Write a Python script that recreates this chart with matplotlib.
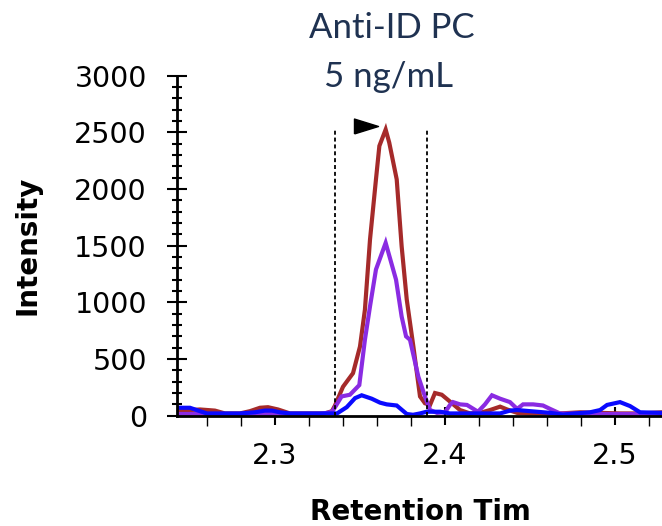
import matplotlib
matplotlib.use("Agg")
import matplotlib.pyplot as plt
from matplotlib.ticker import MultipleLocator

# Retention time (min) / intensity
red_t = [2.2424, 2.2500, 2.2559, 2.2647, 2.2706, 2.2794, 2.2853, 2.2912, 2.2959, 2.3018,
         2.3088, 2.3206, 2.3294, 2.3335, 2.3353, 2.3400, 2.3459, 2.3500, 2.3529, 2.3559,
         2.3594, 2.3614, 2.3651, 2.3672, 2.3716, 2.3745, 2.3775, 2.3814, 2.3853, 2.3882,
         2.3912, 2.3941, 2.3981, 2.4029, 2.4088, 2.4147, 2.4206, 2.4265, 2.4324, 2.4365,
         2.4424, 2.4500, 2.4676, 2.4794, 2.4912, 2.5029, 2.5147, 2.5276]
red_i = [45, 50, 55, 45, 20, 20, 40, 70, 75, 55,
         20, 20, 20, 40, 90, 255, 375, 610, 935, 1555,
         2085, 2380, 2525, 2410, 2085, 1495, 1025, 610, 170, 110,
         95, 200, 185, 125, 50, 20, 25, 50, 80, 55,
         25, 20, 20, 30, 25, 20, 20, 30]

purple_t = [2.2424, 2.2559, 2.2735, 2.3029, 2.3265, 2.3324, 2.3341, 2.3392, 2.3441, 2.3496,
            2.3529, 2.3559, 2.3594, 2.3651, 2.3712, 2.3745, 2.3771, 2.3794, 2.3843, 2.3882,
            2.3912, 2.3953, 2.4000, 2.4029, 2.4047, 2.4088, 2.4129, 2.4194, 2.4235, 2.4276,
            2.4324, 2.4382, 2.4424, 2.4459, 2.4518, 2.4576, 2.4618, 2.4676, 2.4912, 2.5276]
purple_i = [15, 15, 12, 15, 15, 30, 45, 170, 185, 270,
            670, 965, 1290, 1525, 1200, 875, 700, 670, 345, 170,
            50, 25, 30, 95, 120, 100, 95, 35, 100, 180,
            150, 120, 60, 100, 100, 90, 60, 20, 15, 15]

blue_t = [2.2424, 2.2500, 2.2559, 2.2600, 2.2794, 2.2882, 2.2941, 2.2982, 2.3029, 2.3088,
          2.3324, 2.3365, 2.3422, 2.3471, 2.3510, 2.3569, 2.3618, 2.3657, 2.3716, 2.3775,
          2.3812, 2.3853, 2.3892, 2.3971, 2.4029, 2.4147, 2.4324, 2.4382, 2.4424, 2.4500,
          2.4618, 2.4694, 2.4765, 2.4853, 2.4912, 2.4953, 2.5029, 2.5088, 2.5147, 2.5276]
blue_i = [70, 70, 40, 20, 20, 30, 45, 45, 30, 20,
          20, 20, 75, 155, 180, 150, 115, 100, 90, 15,
          8, 20, 35, 35, 20, 20, 20, 45, 50, 40,
          25, 10, 20, 30, 50, 95, 120, 85, 30, 25]

# integration window and apex marker
window_t = [2.3353, 2.3894]
window_top = 2520
apex_t = 2.3537
apex_i = 2558

title_lines = ["Anti-ID PC", "5 ng/mL"]

fig = plt.figure(figsize=(6.62, 5.26), dpi=100)
ax = fig.add_axes([177 / 662, 110.3 / 526, 485 / 662, 340 / 526])

ax.plot(red_t, red_i, color="#a52a2a", lw=3, solid_joinstyle="miter", zorder=3)
ax.plot(purple_t, purple_i, color="#8a2be2", lw=3, solid_joinstyle="miter", zorder=4)
ax.plot(blue_t, blue_i, color="#0a0aff", lw=3, solid_joinstyle="miter", zorder=5)

for wt in window_t:
    ax.plot([wt, wt], [0, window_top], color="black", lw=1.3,
            linestyle=(0, (2.2, 1.6)), zorder=6)

tri = [(-1, -0.62), (-1, 0.62), (1, 0), (-1, -0.62)]
ax.plot([apex_t], [apex_i], marker=tri, markersize=17.3, color="black",
        linestyle="none", clip_on=False, zorder=7)

ax.set_xlim(2.2424, 2.5276)
ax.set_ylim(0, 3000)
ax.xaxis.set_major_locator(MultipleLocator(0.1))
ax.xaxis.set_minor_locator(MultipleLocator(0.02))
ax.yaxis.set_major_locator(MultipleLocator(500))
ax.yaxis.set_minor_locator(MultipleLocator(100))

for side in ["top", "right"]:
    ax.spines[side].set_visible(False)
for side in ["left", "bottom"]:
    ax.spines[side].set_linewidth(2)
    ax.spines[side].set_zorder(8)

ax.tick_params(axis="y", which="major", direction="inout", length=13.7, width=1.5,
               pad=14.8, labelsize=20.5)
ax.tick_params(axis="y", which="minor", direction="inout", length=6.5, width=1.5)
ax.tick_params(axis="x", which="major", direction="inout", length=13, width=1.5,
               pad=12.7, labelsize=20.5)
ax.tick_params(axis="x", which="minor", direction="out", length=7, width=1)
ax.set_xticklabels([], minor=True)
ax.xaxis.set_major_formatter(plt.FuncFormatter(lambda v, p: f"{v:.1f}"))

fig.text(28 / 662, 1 - 245.7 / 526, "Intensity", rotation=90, ha="center", va="center",
         fontsize=20, fontweight="bold", family="DejaVu Sans")
fig.text(420 / 662, 1 - 520 / 526, "Retention Tim", ha="center", va="baseline",
         fontsize=20, fontweight="bold", family="DejaVu Sans")

fig.text(392 / 662, 1 - 38.3 / 526, title_lines[0], ha="center", va="baseline",
         fontsize=25, family="Lato", color="#1f3251")
fig.text(388 / 662, 1 - 87.3 / 526, title_lines[1], ha="center", va="baseline",
         fontsize=25, family="Lato", color="#1f3251")

fig.savefig("out.png", dpi=100)
